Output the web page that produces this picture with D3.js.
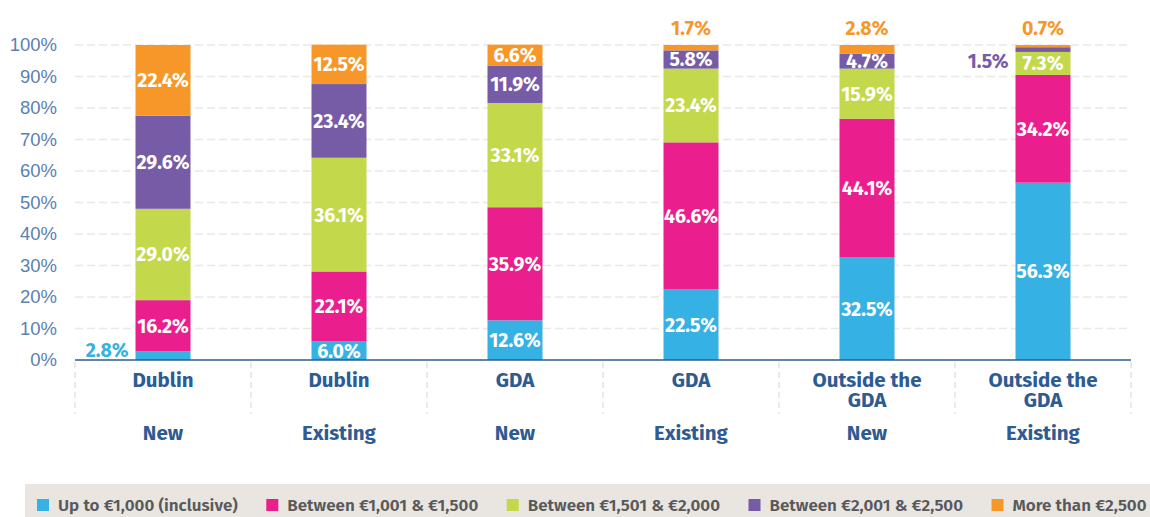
<!DOCTYPE html>
<html>
<head>
<meta charset="utf-8">
<script src="https://cdn.jsdelivr.net/npm/d3@7"></script>
<style>
  html, body { margin: 0; padding: 0; background: #fff; }
  svg { display: block; font-family: "Fira Sans", "Open Sans", "Noto Sans", sans-serif; }
</style>
</head>
<body>
<svg id="chart" width="1150" height="517"></svg>
<script>
// Rent bands by location and tenancy type (shares of each bar, %)
const categories = ["Dublin|New", "Dublin|Existing", "GDA|New", "GDA|Existing", "Outside the GDA|New", "Outside the GDA|Existing"];
const locations = ["Dublin", "Dublin", "GDA", "GDA", "Outside the GDA", "Outside the GDA"];
const tenancy = ["New", "Existing", "New", "Existing", "New", "Existing"];
const seriesNames = ["Up to €1,000 (inclusive)", "Between €1,001 & €1,500", "Between €1,501 & €2,000", "Between €2,001 & €2,500", "More than €2,500"];
const upTo1000 = [2.8, 6.0, 12.6, 22.5, 32.5, 56.3];
const from1001 = [16.2, 22.1, 35.9, 46.6, 44.1, 34.2];
const from1501 = [29.0, 36.1, 33.1, 23.4, 15.9, 7.3];
const from2001 = [29.6, 23.4, 11.9, 5.8, 4.7, 1.5];
const over2500 = [22.4, 12.5, 6.6, 1.7, 2.8, 0.7];
const yTicks = [0, 10, 20, 30, 40, 50, 60, 70, 80, 90, 100];

const seriesValues = [upTo1000, from1001, from1501, from2001, over2500];
const colors = ["#35b1e3", "#ea1f8d", "#c3d84b", "#765ba6", "#f7972a"];

const svg = d3.select("#chart");
const margin = { left: 75, right: 19, top: 45, bottom: 157 };
const W = 1150, H = 517;

const x = d3.scaleBand().domain(categories)
  .range([margin.left, W - margin.right])
  .paddingInner(0.6875).paddingOuter(0.34375);
const y = d3.scaleLinear().domain([0, 100]).range([H - margin.bottom, margin.top]);

// table for stacking
const rows = categories.map((c, i) => {
  const r = { cat: c };
  seriesNames.forEach((s, k) => r[s] = seriesValues[k][i]);
  return r;
});
const stack = d3.stack().keys(seriesNames)(rows);

// gridlines
svg.append("g").selectAll("line").data(yTicks.filter(t => t > 0)).join("line")
  .attr("x1", margin.left).attr("x2", W - margin.right)
  .attr("y1", d => y(d)).attr("y2", d => y(d))
  .attr("stroke", "#ece8e3").attr("stroke-width", 1.5).attr("stroke-dasharray", "8,4");

// y axis labels
const yAxis = d3.axisLeft(y).tickValues(yTicks).tickFormat(d => d + "%").tickSize(0).tickPadding(18);
const yg = svg.append("g").attr("transform", `translate(${margin.left},0)`).call(yAxis);
yg.select(".domain").remove();
yg.selectAll("text").attr("fill", "#5b80b2").attr("font-size", 18.5).attr("font-family", "inherit");

// bars
const layers = svg.append("g").selectAll("g").data(stack).join("g")
  .attr("fill", (d, i) => colors[i]);
layers.selectAll("rect").data(d => d).join("rect")
  .attr("x", d => x(d.data.cat))
  .attr("width", x.bandwidth())
  .attr("y", d => y(d[1]))
  .attr("height", d => y(d[0]) - y(d[1]));

// x axis line and category separators
const step = x.step();
const x0 = margin.left, x1 = W - margin.right;
svg.append("line").attr("x1", x0).attr("x2", x1).attr("y1", y(0)).attr("y2", y(0))
  .attr("stroke", "#2f5b93").attr("stroke-width", 1.5);
svg.append("g").selectAll("line").data(d3.range(categories.length + 1)).join("line")
  .attr("x1", i => x0 + i * step).attr("x2", i => x0 + i * step)
  .attr("y1", y(0) + 2).attr("y2", y(0) + 54)
  .attr("stroke", "#e6e3df").attr("stroke-width", 1.5).attr("stroke-dasharray", "6,4");

// category labels (location may wrap onto two lines)
const xl = svg.append("g").attr("font-weight", 700).attr("fill", "#2f5b93")
  .attr("text-anchor", "middle").attr("font-size", 20.5);
categories.forEach((c, i) => {
  const cx = x(c) + x.bandwidth() / 2;
  const words = locations[i] === "Outside the GDA" ? ["Outside the", "GDA"] : [locations[i]];
  const t = xl.append("text").attr("x", cx).attr("y", y(0) + 27);
  words.forEach((w, j) => {
    t.append("tspan").attr("x", cx).attr("dy", j === 0 ? 0 : 20).text(w);
  });
  xl.append("text").attr("x", cx).attr("y", y(0) + 80).text(tenancy[i]);
});

// value labels
const lab = svg.append("g").attr("font-weight", 700).attr("font-size", 19.5);
stack.forEach((layer, k) => {
  layer.forEach((d, i) => {
    const v = seriesValues[k][i];
    const cx = x(d.data.cat) + x.bandwidth() / 2;
    const txt = v.toFixed(1) + "%";
    const h = y(d[0]) - y(d[1]);
    if (h >= 14) {
      lab.append("text").attr("x", cx).attr("y", (y(d[0]) + y(d[1])) / 2 + 7)
        .attr("text-anchor", "middle").attr("fill", "#fff").text(txt);
    } else if (k === seriesNames.length - 1) {
      lab.append("text").attr("x", cx).attr("y", y(d[1]) - 10)
        .attr("text-anchor", "middle").attr("fill", colors[k]).text(txt);
    } else {
      lab.append("text").attr("x", x(d.data.cat) - 7).attr("y", (k === 0 ? y(d[0]) - 3 : y(d[1]) + 21))
        .attr("text-anchor", "end").attr("fill", colors[k]).text(txt);
    }
  });
});

// legend
const lg = svg.append("g");
lg.append("rect").attr("x", 25).attr("y", 484).attr("width", W - 25).attr("height", H - 484).attr("fill", "#e9e5e0");
let lx = 37;
seriesNames.forEach((s, k) => {
  lg.append("rect").attr("x", lx).attr("y", 499).attr("width", 12).attr("height", 12).attr("fill", colors[k]);
  const t = lg.append("text").attr("x", lx + 21).attr("y", 511)
    .attr("font-size", 17).attr("font-weight", 600).attr("fill", "#58595b").text(s);
  lx += 21 + t.node().getComputedTextLength() + 28.5;
});
</script>
</body>
</html>
